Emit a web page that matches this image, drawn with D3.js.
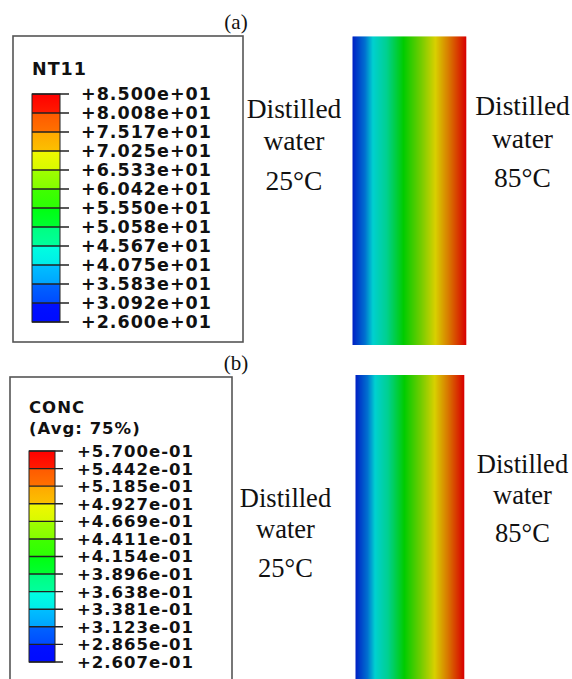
<!DOCTYPE html>
<html><head><meta charset="utf-8">
<script src="https://cdn.jsdelivr.net/npm/d3@7"></script>
<style>
html,body{margin:0;padding:0;background:#fff;}
svg{display:block;}
</style></head><body>
<svg id="fig" width="572" height="679"></svg>
<script>
// Legend tick labels (low to high)
const tempLabels = ["+2.600e+01","+3.092e+01","+3.583e+01","+4.075e+01","+4.567e+01","+5.058e+01","+5.550e+01","+6.042e+01","+6.533e+01","+7.025e+01","+7.517e+01","+8.008e+01","+8.500e+01"];
const concLabels = ["+2.607e-01","+2.865e-01","+3.123e-01","+3.381e-01","+3.638e-01","+3.896e-01","+4.154e-01","+4.411e-01","+4.669e-01","+4.927e-01","+5.185e-01","+5.442e-01","+5.700e-01"];

// Contour band colours (low to high)
const bandColors = ["#0010ff","#0064ff","#00c0ff","#00ffe0","#00ff80","#00ff10","#40ff00","#a0ff00","#f0f800","#ffa800","#ff5a00","#ff0000"];

// Field values on the two faces of the wall (left, right)
const tempWall = [26, 85];
const concWall = [0.2607, 0.57];

// Shaded contour colour map, by fraction of the field range
const shadeStops  = [0, 0.11, 0.18, 0.30, 0.45, 0.60, 0.73, 0.85, 1];
const shadeColors = ["#0020c4","#0070d0","#00d0d0","#00d090","#00cc00","#70cc00","#d8d000","#d87800","#d80000"];

// Side labels
const leftLines  = ["Distilled", "water", "25°C"];
const rightLines = ["Distilled", "water", "85°C"];

const svg = d3.select("#fig");
const defs = svg.append("defs");
const shade = d3.scaleLinear().domain(shadeStops).range(shadeColors).clamp(true);

function legend(cfg) {
  const g = svg.append("g");
  g.append("rect")
    .attr("x", cfg.box[0]).attr("y", cfg.box[1])
    .attr("width", cfg.box[2]).attr("height", cfg.box[3])
    .attr("fill", "#fff").attr("stroke", "#555").attr("stroke-width", 1.6);

  const font = "'DejaVu Sans', Verdana, sans-serif";
  cfg.titles.forEach((t, i) => {
    g.append("text")
      .attr("x", cfg.barX[0]).attr("y", cfg.titleY[i])
      .attr("font-family", font).attr("font-weight", "bold")
      .attr("font-size", cfg.fs).attr("letter-spacing", cfg.ls)
      .attr("fill", "#111").text(t);
  });

  const vals = cfg.labels.map(Number);
  const y = d3.scaleLinear().domain(d3.extent(vals)).range([cfg.barY[1], cfg.barY[0]]);

  // one band per interval, slightly graded toward the lower neighbour
  const bands = d3.range(vals.length - 1).map(i => ({lo: vals[i], hi: vals[i + 1], c: bandColors[i], i}));
  bands.forEach(b => {
    const id = cfg.id + "-band" + b.i;
    const gr = defs.append("linearGradient").attr("id", id)
      .attr("x1", 0).attr("y1", 0).attr("x2", 0).attr("y2", 1);
    const lower = b.i > 0 ? bandColors[b.i - 1] : "#0000ff";
    gr.append("stop").attr("offset", "0%").attr("stop-color", b.c);
    gr.append("stop").attr("offset", "100%").attr("stop-color", d3.interpolateRgb(b.c, lower)(0.3));
  });
  g.selectAll("rect.band").data(bands).join("rect").attr("class", "band")
    .attr("x", cfg.barX[0]).attr("width", cfg.barX[1] - cfg.barX[0])
    .attr("y", d => y(d.hi)).attr("height", d => y(d.lo) - y(d.hi))
    .attr("fill", d => `url(#${cfg.id}-band${d.i})`);

  g.append("rect")
    .attr("x", cfg.barX[0]).attr("y", cfg.barY[0])
    .attr("width", cfg.barX[1] - cfg.barX[0]).attr("height", cfg.barY[1] - cfg.barY[0])
    .attr("fill", "none").attr("stroke", "#222").attr("stroke-width", 1);

  g.selectAll("line.tick").data(vals).join("line").attr("class", "tick")
    .attr("x1", cfg.barX[0]).attr("x2", cfg.tickEnd)
    .attr("y1", d => y(d)).attr("y2", d => y(d))
    .attr("stroke", "#222").attr("stroke-width", 1.4);

  g.selectAll("text.lab").data(cfg.labels).join("text").attr("class", "lab")
    .attr("x", cfg.labelX).attr("y", d => y(+d) + cfg.fs * 0.365)
    .attr("font-family", font).attr("font-weight", "bold")
    .attr("font-size", cfg.fs).attr("letter-spacing", cfg.ls)
    .attr("fill", "#111").text(d => d);
}

function field(cfg) {
  const x = d3.scaleLinear().domain(cfg.wall).range([cfg.x0, cfg.x1]);
  const norm = d3.scaleLinear().domain(cfg.wall).range([0, 1]);
  const cols = d3.range(Math.floor(cfg.x0), Math.ceil(cfg.x1));
  svg.append("g").selectAll("rect").data(cols).join("rect")
    .attr("x", d => Math.max(d, cfg.x0))
    .attr("width", d => Math.min(d + 1, cfg.x1) - Math.max(d, cfg.x0) + 0.3)
    .attr("y", cfg.y0).attr("height", cfg.y1 - cfg.y0)
    .attr("fill", d => shade(norm(x.invert(d + 0.5))));
}

function sideText(lines, cx, baselines, fs) {
  svg.append("g").selectAll("text").data(lines).join("text")
    .attr("x", cx).attr("y", (d, i) => baselines[i])
    .attr("text-anchor", "middle")
    .attr("font-family", "'Liberation Serif', 'Times New Roman', serif")
    .attr("font-size", fs).attr("fill", "#111").text(d => d);
}

function panelTag(t, x, y) {
  svg.append("text").attr("x", x).attr("y", y).attr("text-anchor", "middle")
    .attr("font-family", "'Liberation Serif', 'Times New Roman', serif")
    .attr("font-size", 21).attr("fill", "#111").text(t);
}

// (a) temperature
panelTag("(a)", 236, 29);
legend({id: "nt", box: [13, 36, 230, 306], titles: ["NT11"], titleY: [75],
  labels: tempLabels, barX: [32, 60], barY: [94, 322], tickEnd: 69, labelX: 81, fs: 17.5, ls: 1.0});
field({wall: tempWall, x0: 352.5, x1: 466, y0: 36.5, y1: 345});
sideText(leftLines, 294, [118, 150, 190], 27.5);
sideText(rightLines, 522.5, [115, 148, 187], 27.5);

// (b) concentration
panelTag("(b)", 236, 370);
legend({id: "conc", box: [10, 377, 222, 320], titles: ["CONC", "(Avg: 75%)"], titleY: [413, 434],
  labels: concLabels, barX: [29, 55], barY: [451, 662], tickEnd: 63, labelX: 77, fs: 16.5, ls: 1.0});
field({wall: concWall, x0: 355.5, x1: 464, y0: 375, y1: 679});
sideText(leftLines, 285.5, [507, 538, 577], 26.5);
sideText(rightLines, 522.5, [473, 504, 542], 26.5);
</script>
</body></html>
